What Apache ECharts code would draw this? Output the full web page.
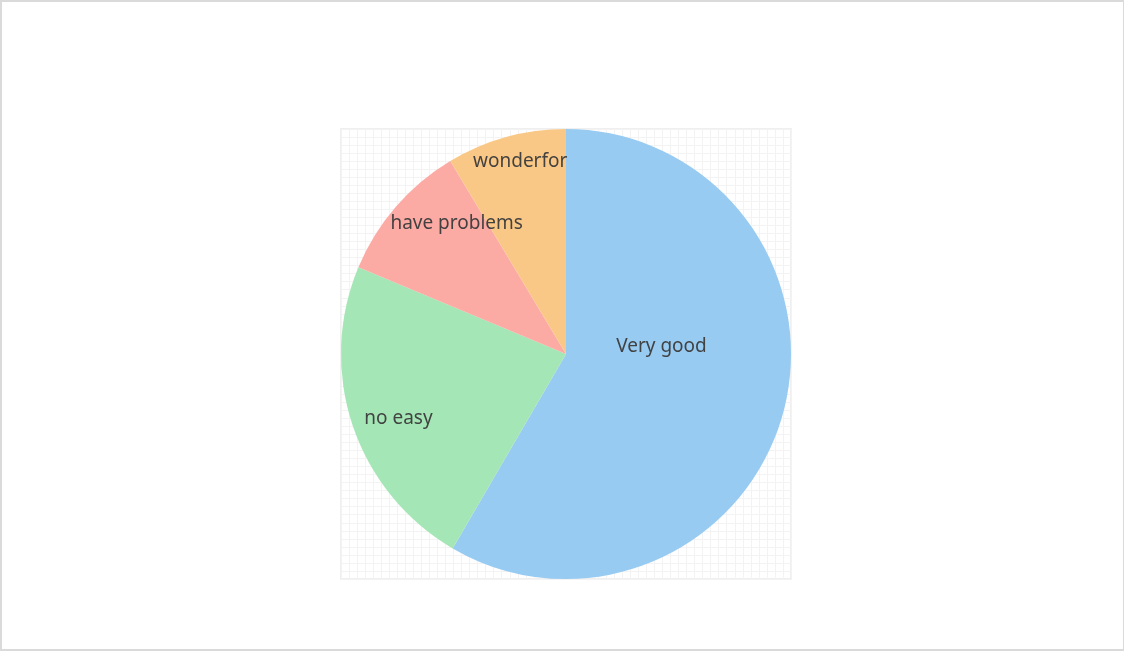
<!DOCTYPE html>
<html><head><meta charset="utf-8">
<script src="https://cdn.jsdelivr.net/npm/echarts@6/dist/echarts.min.js"></script>
<style>
html,body{margin:0;padding:0;background:#fff;}
#frame{position:absolute;left:0;top:0;width:1124px;height:651px;box-sizing:border-box;border:2px solid #dadada;border-right-width:1px;pointer-events:none;z-index:2;}
#main{position:absolute;left:0;top:0;width:1124px;height:665px;}
</style></head>
<body>
<div id="main"></div><div id="frame"></div>
<script>
const categories = ['Very good', 'no easy', 'have problems', 'wonderfor'];
const values = [58.4, 22.9, 10.1, 8.6];
const colors = ['#95c9f2', '#a1e5b3', '#fca7a1', '#fac682'];
const labelOffsets = [[-16, -38], [-58, 28], [-22, -55], [-15, -81]];

const chart = echarts.init(document.getElementById('main'), null, {renderer: 'canvas'});
chart.setOption({
  animation: false,
  grid: {left: 341, top: 129, width: 450, height: 450, show: true, borderColor: '#efefef', borderWidth: 2, backgroundColor: '#fff'},
  xAxis: {type: 'value', min: 0, max: 56, interval: 1, axisLine: {show: false}, axisTick: {show: false}, axisLabel: {show: false}, splitLine: {show: true, lineStyle: {color: '#f3f3f3', width: 1}}},
  yAxis: {type: 'value', min: 0, max: 56, interval: 1, axisLine: {show: false}, axisTick: {show: false}, axisLabel: {show: false}, splitLine: {show: true, lineStyle: {color: '#f3f3f3', width: 1}}},
  series: [{
    type: 'pie',
    center: [566, 354],
    radius: [0, 225],
    startAngle: 90,
    clockwise: true,
    labelLine: {show: false},
    itemStyle: {opacity: 0.97},
    label: {show: true, position: 'inside', color: '#3d3d3d', fontSize: 19, fontFamily: 'Noto Sans'},
    emphasis: {disabled: true},
    data: categories.map((c, i) => ({
      name: c, value: values[i],
      itemStyle: {color: colors[i]},
      label: {offset: labelOffsets[i]}
    }))
  }]
});
</script>
</body></html>
